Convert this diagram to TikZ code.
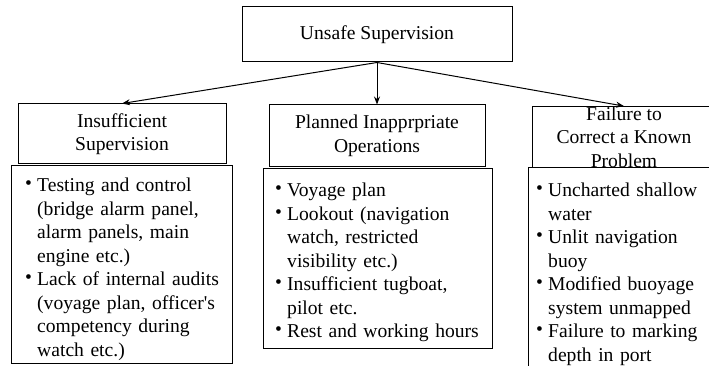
\documentclass[tikz,border=0pt]{standalone}
\usepackage{fontspec}
\setmainfont{Liberation Serif}
\usepackage{graphicx}
\usetikzlibrary{arrows.meta}
\newcommand\bulitem[1]{\par\noindent\hangindent=12pt\hangafter=1\makebox[12pt][l]{\raisebox{2pt}{\textbullet}}#1}
\tikzset{
  box/.style={draw, line width=1pt, fill=white, inner sep=0pt},
  txt/.style={font=\fontsize{19.6}{23.5}\selectfont},
  hdr/.style={box, txt, align=center},
  bodytxt/.style={txt, text width=#1, inner sep=0pt, anchor=north west},
  arr/.style={-{Stealth[length=8pt,width=6pt]}, line width=1pt}
}
\begin{document}
\begin{tikzpicture}[x=1pt,y=-1pt]
\useasboundingbox (0,0) rectangle (709,366);
\clip (0,0) rectangle (709,366);
% top
\node[hdr, minimum width=270pt, minimum height=55pt] (top) at (377,34.5) {Unsafe Supervision};
% headers
\node[hdr, minimum width=208pt, minimum height=60pt] (lh) at (122,134) {Insufficient\\Supervision};
\node[hdr, minimum width=216pt, minimum height=62pt] (mh) at (377,136) {Planned Inapprpriate\\Operations};
\node[hdr, minimum width=184pt, minimum height=60pt] (rh) at (624,137) {Failure to\\Correct a Known\\Problem};
% bodies
\node[box, minimum width=221pt, minimum height=198pt, anchor=north west] (lb) at (11,165) {};
\node[box, minimum width=229pt, minimum height=180pt, anchor=north west] (mb) at (263,168) {};
\node[box, minimum width=192pt, minimum height=240pt, anchor=north west] (rb) at (528,167) {};
% body texts
\node[bodytxt=200pt] (lt) at (25,168) {\raggedright
\bulitem{Testing and control (bridge alarm panel, alarm panels, main engine etc.)}
\bulitem{Lack of internal audits (voyage plan, officer\textquotesingle s competency during watch etc.)}\par};
\node[bodytxt=215pt] (mt) at (275,173) {\raggedright
\bulitem{Voyage plan}
\bulitem{Lookout (navigation watch, restricted visibility etc.)}
\bulitem{Insufficient tugboat,\newline pilot etc.}
\bulitem{Rest and working hours}\par};
\node[bodytxt=170pt] (rt) at (536,173) {\raggedright
\bulitem{Uncharted shallow water}
\bulitem{Unlit navigation buoy}
\bulitem{Modified buoyage system unmapped}
\bulitem{Failure to marking depth in port}\par};
% arrows
\draw[arr] (top.south) -- (lh.north);
\draw[arr] (top.south) -- (mh.north);
\draw[arr] (top.south) -- (rh.north);
\end{tikzpicture}
\end{document}
